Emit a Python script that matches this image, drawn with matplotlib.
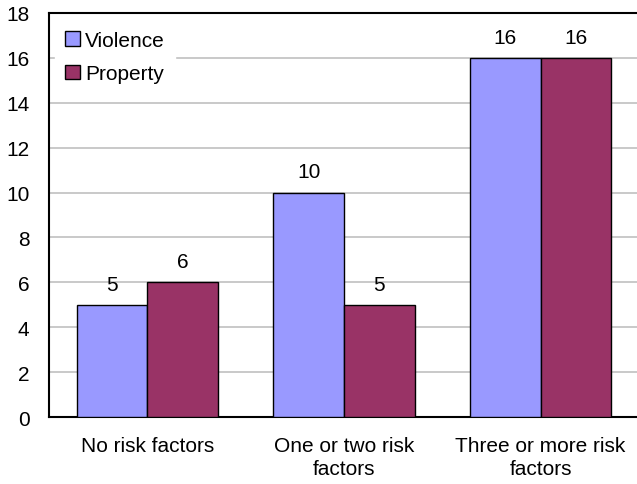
import numpy as np
import matplotlib
matplotlib.use('Agg')
import matplotlib.pyplot as plt

plt.rcParams['font.family'] = ['Liberation Sans', 'DejaVu Sans']

categories = ['No risk factors', 'One or two risk\nfactors', 'Three or more risk\nfactors']
violence = [5, 10, 16]
prop = [6, 5, 16]

C_VIOL = '#9999FF'
C_PROP = '#993366'
FS = 15

fig = plt.figure(figsize=(6.37, 4.85), dpi=100, facecolor='white')
ax = fig.add_axes([49 / 637, 1 - 418 / 485, 588 / 637, 404 / 485])

x = np.arange(len(categories))
w = 0.36
b1 = ax.bar(x - w / 2, violence, w, color=C_VIOL, edgecolor='black', lw=1, label='Violence', zorder=3)
b2 = ax.bar(x + w / 2, prop, w, color=C_PROP, edgecolor='black', lw=1, label='Property', zorder=3)
for bars in (b1, b2):
    ax.bar_label(bars, padding=8, fontsize=FS)

ax.set_ylim(0, 18)
ax.set_yticks(range(0, 19, 2))
ax.set_xlim(-0.5, 2.49)
ax.set_xticks(x)
ax.set_xticklabels(categories, fontsize=FS, linespacing=1.25)
ax.tick_params(axis='y', labelsize=FS, length=0, pad=14)
ax.tick_params(axis='x', length=0, pad=14)
for y in range(2, 18, 2):
    ax.axhline(y, color='#C0C0C0', lw=1.2, zorder=1)
ax.spines['right'].set_visible(False)
for s in ('left', 'bottom', 'top'):
    ax.spines[s].set_linewidth(1.5)

leg = ax.legend(loc='upper left', bbox_to_anchor=(-0.008, 1.008), fontsize=FS,
                frameon=True, edgecolor='white', framealpha=1, fancybox=False,
                handlelength=0.7, handleheight=0.7, handletextpad=0.25, labelspacing=0.7,
                borderpad=0.5)
leg.set_zorder(5)

fig.savefig('out.png', dpi=100, facecolor='white')
